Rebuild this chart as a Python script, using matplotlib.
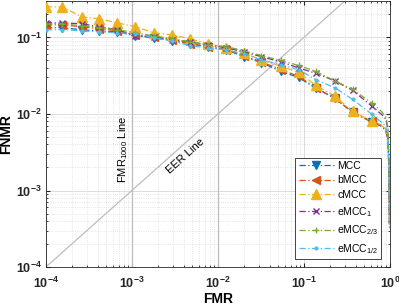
import matplotlib
matplotlib.use("Agg")
import matplotlib.pyplot as plt
from matplotlib.ticker import LogLocator, NullFormatter

plt.rcParams["font.family"] = ["Liberation Sans", "DejaVu Sans"]
plt.rcParams["mathtext.fontset"] = "custom"
plt.rcParams["mathtext.rm"] = "Liberation Sans"
plt.rcParams["mathtext.it"] = "Liberation Sans"
plt.rcParams["mathtext.bf"] = "Liberation Sans:bold"

# ---------- DATA ----------
fmr = [1.0e-4, 1.55e-4, 2.6e-4, 4.2e-4, 6.8e-4, 1.1e-3, 1.8e-3, 2.95e-3, 4.7e-3,
       7.6e-3, 1.26e-2, 2.0e-2, 3.2e-2, 5.4e-2, 8.7e-2, 0.138, 0.23, 0.37, 0.62,
       0.8, 0.9, 0.95, 0.975, 0.985, 0.99]

fnmr_mcc = [0.134, 0.134, 0.126, 0.122, 0.118, 0.105, 0.099, 0.090, 0.083, 0.076,
            0.069, 0.056, 0.047, 0.036, 0.030, 0.0216, 0.016, 0.0105, 0.0078,
            0.0069, 0.0060, 0.0044, 0.0019, 0.00067, 0.00034]
fnmr_bmcc = [0.146, 0.146, 0.138, 0.130, 0.122, 0.108, 0.102, 0.093, 0.083, 0.076,
             0.069, 0.058, 0.048, 0.038, 0.031, 0.022, 0.016, 0.0105, 0.0080,
             0.0071, 0.0062, 0.0043, 0.0019, 0.00067, 0.00034]
fnmr_cmcc = [0.251, 0.251, 0.186, 0.175, 0.155, 0.138, 0.115, 0.108, 0.096, 0.083,
             0.073, 0.063, 0.051, 0.042, 0.035, 0.0236, 0.017, 0.0108, 0.0080,
             0.0071, 0.0063, 0.0047, 0.0022, 0.00078, 0.00037]
fnmr_emcc1 = [0.155, 0.155, 0.151, 0.138, 0.126, 0.105, 0.102, 0.093, 0.088, 0.080,
              0.073, 0.065, 0.056, 0.048, 0.040, 0.034, 0.027, 0.0203, 0.0126,
              0.0099, 0.0085, 0.0063, 0.0026, 0.00078, 0.00037]
fnmr_emcc23 = [0.151, 0.151, 0.142, 0.134, 0.126, 0.115, 0.105, 0.096, 0.088, 0.080,
               0.076, 0.067, 0.058, 0.050, 0.043, 0.036, 0.027, 0.021, 0.0138,
               0.0108, 0.0091, 0.0067, 0.0026, 0.00078, 0.00037]
fnmr_emcc12 = [0.126, 0.126, 0.122, 0.118, 0.115, 0.112, 0.099, 0.090, 0.078, 0.073,
               0.069, 0.061, 0.051, 0.044, 0.038, 0.028, 0.022, 0.0155, 0.0099,
               0.0078, 0.0069, 0.0054, 0.0022, 0.00067, 0.00032]

labels = ["MCC", "bMCC", "cMCC", r"eMCC$_1$", r"eMCC$_{2/3}$", r"eMCC$_{1/2}$"]
series = [fnmr_mcc, fnmr_bmcc, fnmr_cmcc, fnmr_emcc1, fnmr_emcc23, fnmr_emcc12]
colors = ["#0072BD", "#D95319", "#EDB120", "#7E2F8E", "#77AC30", "#4DBEEE"]
markers = ["v", "<", "^", "x", "+", "."]
msizes = [6, 6, 7.5, 4, 5, 4]

n_marked = 19

# ---------- PLOT ----------
fig = plt.figure(figsize=(3.99, 3.08), dpi=100)
ax = fig.add_axes([0.115, 0.133, 0.862, 0.864])

ax.set_xscale("log")
ax.set_yscale("log")
ax.set_xlim(1e-4, 1)
ax.set_ylim(1e-4, 0.3)

# reference lines
ax.plot([1e-4, 1], [1e-4, 1], color="#bdbdbd", linewidth=0.9, zorder=1)
ax.axvline(1e-3, color="#bdbdbd", linewidth=0.9, zorder=1)
ax.axvline(1e-2, color="#bdbdbd", linewidth=0.9, zorder=1)

for y, lab, c, m, ms in zip(series, labels, colors, markers, msizes):
    ax.plot(fmr, y, linestyle=(0, (5, 2, 1, 2)), color=c, linewidth=0.9, marker=m,
            markersize=ms, markevery=list(range(n_marked)), label=lab, zorder=3)

ax.text(7.86e-4, 3.48e-3, r"FMR$_{1000}$ Line", rotation=90, ha="center",
        va="center", fontsize=8)
ax.text(4.25e-3, 2.83e-3, "EER Line", rotation=42, rotation_mode="anchor",
        ha="center", va="center", fontsize=8)

ax.grid(True, which="major", color="#dcdcdc", linewidth=0.7, linestyle="-")
ax.grid(True, which="minor", color="#dcdcdc", linewidth=0.6, linestyle=":")
ax.set_axisbelow(True)
ax.xaxis.set_major_locator(LogLocator(base=10, numticks=10))
ax.xaxis.set_minor_locator(LogLocator(base=10, subs=range(2, 10), numticks=50))
ax.yaxis.set_minor_locator(LogLocator(base=10, subs=range(2, 10), numticks=50))
ax.xaxis.set_minor_formatter(NullFormatter())
ax.yaxis.set_minor_formatter(NullFormatter())
ax.set_yticks([1e-4, 1e-3, 1e-2, 1e-1])
ax.tick_params(which="both", direction="in", top=True, right=True, colors="#262626")
ax.tick_params(which="major", length=3, labelsize=9, pad=3)
ax.tick_params(axis="x", which="major", pad=6)
ax.tick_params(which="minor", length=1.5)
for lbl in ax.get_xticklabels() + ax.get_yticklabels():
    lbl.set_fontweight("bold")
for s in ax.spines.values():
    s.set_color("#262626")
    s.set_linewidth(0.6)

ax.set_xlabel("FMR", fontsize=10, fontweight="bold", labelpad=1)
ax.set_ylabel("FNMR", fontsize=10, fontweight="bold", labelpad=2)

leg = ax.legend(loc="lower right", fontsize=7.5, frameon=True, fancybox=False,
                edgecolor="#262626", framealpha=1, handlelength=3.4,
                borderaxespad=0.8, labelspacing=0.45, handletextpad=0.3,
                borderpad=0.3)
leg.get_frame().set_linewidth(0.6)

fig.savefig("out.png", dpi=100)
